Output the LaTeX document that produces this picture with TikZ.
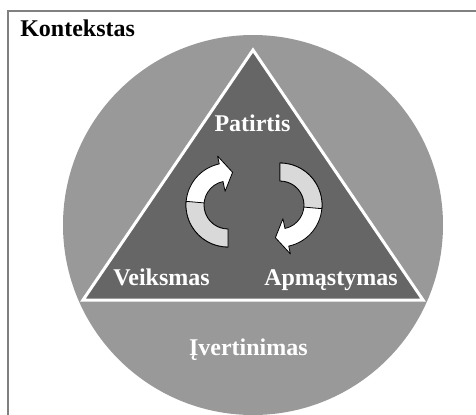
\documentclass[tikz,border=0pt]{standalone}
\usepackage{fontspec}
\setmainfont{Liberation Serif}
\definecolor{ringgray}{HTML}{999999}
\definecolor{triangray}{HTML}{666666}
\definecolor{backgray}{HTML}{D9D9D9}
\tikzset{
  stagelabel/.style={font=\fontsize{18}{20}\selectfont\bfseries,text=white,inner sep=0pt},
  cyclearrow/.style={draw=black,line width=0.6pt,line join=round}
}

\begin{document}
\begin{tikzpicture}[x=0.75pt,y=0.75pt]
\useasboundingbox (0,0) rectangle (476,-415);
\draw[gray,line width=1.5pt] (8,-420) -- (8,-10.5) -- (480,-10.5);
\node[anchor=base west,font=\fontsize{18}{20}\selectfont\bfseries,inner sep=0pt] (ctx) at (20,-36) {Kontekstas};
\fill[ringgray] (253,-225) circle (190);
\filldraw[fill=triangray,draw=white,line width=2.25pt] (253,-50) -- (83,-300) -- (423,-300) -- cycle;
\foreach \cx/\cy/\rot in {228/-205/0,280/-205/180}{
\begin{scope}[shift={(\cx,\cy)},rotate=\rot]
\filldraw[cyclearrow,fill=white] (-90:42) arc[start angle=-90,end angle=-258,radius=42] -- (102:50) -- (82:33) -- (102:14) -- (102:24) arc[start angle=102,end angle=270,radius=24] -- cycle;
\filldraw[cyclearrow,fill=backgray] (-90:42) arc[start angle=-90,end angle=-185,radius=42] -- (175:24) arc[start angle=175,end angle=270,radius=24] -- cycle;
\end{scope}
}
\node[stagelabel,anchor=base] (exp) at (252.5,-131) {Patirtis};
\node[stagelabel,anchor=base west] (act) at (113,-285) {Veiksmas};
\node[stagelabel,anchor=base west] (refl) at (264,-285) {Apmąstymas};
\node[stagelabel,anchor=base east] (eval) at (308,-355) {Įvertinimas};
\end{tikzpicture}
\end{document}
